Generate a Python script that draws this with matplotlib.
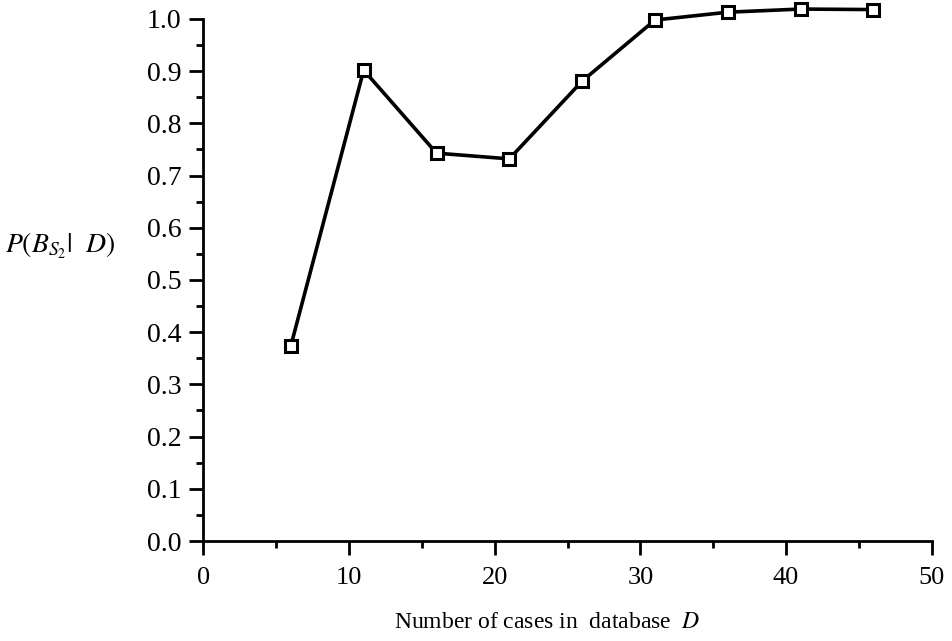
import matplotlib
matplotlib.use("Agg")
import matplotlib.pyplot as plt
from matplotlib.ticker import MultipleLocator

plt.rcParams['font.family'] = ['Liberation Serif', 'DejaVu Serif']
plt.rcParams['mathtext.fontset'] = 'stix'

cases = [6, 11, 16, 21, 26, 31, 36, 41, 46]
prob = [0.374, 0.902, 0.743, 0.732, 0.881, 0.998, 1.013, 1.019, 1.018]
x_ticks = [0, 10, 20, 30, 40, 50]
y_ticks = [0.0, 0.1, 0.2, 0.3, 0.4, 0.5, 0.6, 0.7, 0.8, 0.9, 1.0]

fig = plt.figure(figsize=(9.53, 6.41), dpi=100)
ax = fig.add_axes([0.2135, 0.156, 0.7642, 0.8144])

ax.plot(cases, prob, color='black', linewidth=2.6, marker='s', markersize=9,
        markerfacecolor='white', markeredgecolor='black', markeredgewidth=2.2,
        clip_on=False, zorder=3)

ax.set_xlim(0, 50)
ax.set_ylim(0, 1.0)
ax.set_xticks(x_ticks)
ax.set_yticks(y_ticks)
ax.set_xticklabels([str(v) for v in x_ticks])
ax.set_yticklabels([f"{v:.1f}" for v in y_ticks])
ax.xaxis.set_minor_locator(MultipleLocator(5))
ax.yaxis.set_minor_locator(MultipleLocator(0.05))

for s in ['top', 'right']:
    ax.spines[s].set_visible(False)
for s in ['left', 'bottom']:
    ax.spines[s].set_linewidth(2.0)

ax.tick_params(axis='both', which='major', direction='out', length=10, width=2.0)
ax.tick_params(axis='both', which='minor', direction='out', length=5, width=2.0)
ax.tick_params(axis='y', which='major', labelsize=20, pad=6)
ax.tick_params(axis='x', which='major', labelsize=19, pad=9)

fig.text(0.574, 1 - 622 / 641, r'Number of cases in  database  $\mathit{D}$',
         fontsize=17, ha='center', va='center')
fig.text(0.005, 1 - 246 / 641, r'$P(B_{S_2}|\ \ D)$', fontsize=20,
         ha='left', va='center')

fig.savefig('out.png', dpi=100)
